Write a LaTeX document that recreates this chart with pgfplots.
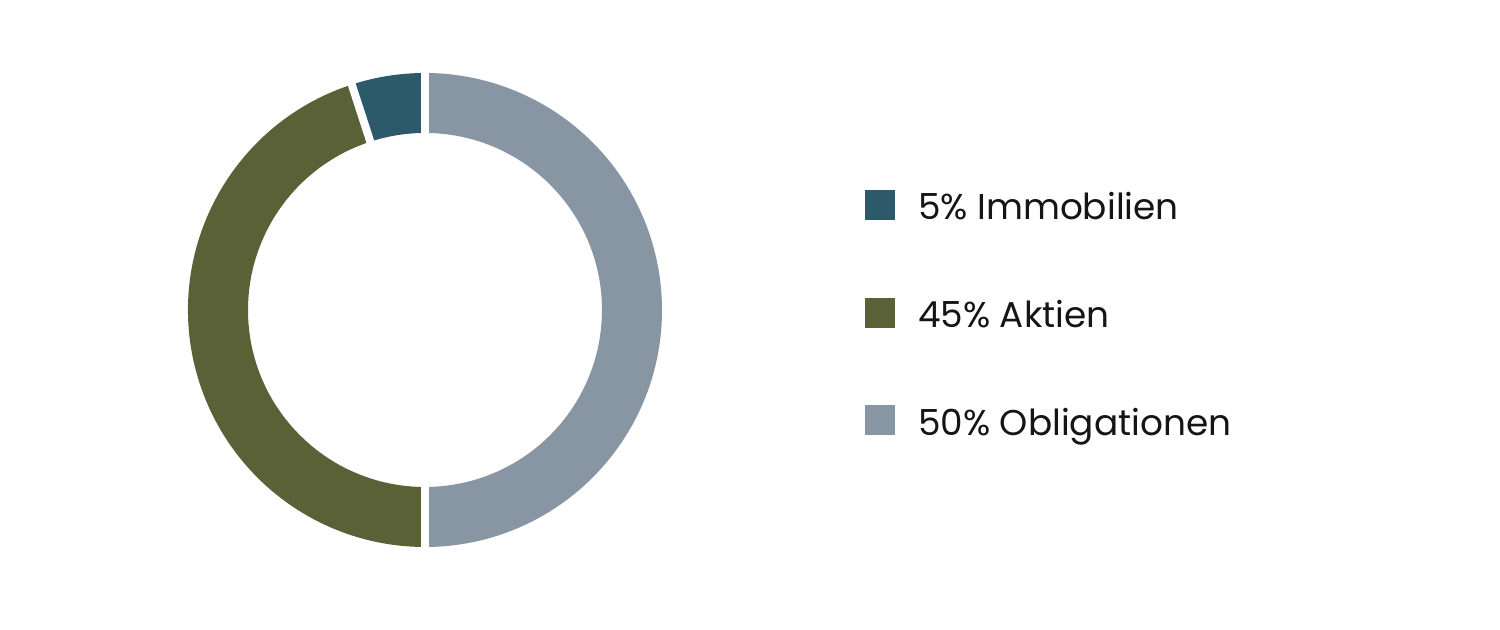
\documentclass[border=0pt]{standalone}
\usepackage{pgfplots}
\pgfplotsset{compat=1.18}
\usepackage{pgfplotstable}
\usepackage{fontspec}
\setmainfont{Poppins}

\definecolor{immo}{HTML}{2C5A6B}
\definecolor{aktien}{HTML}{5A6137}
\definecolor{oblig}{HTML}{8796A2}
\definecolor{textcol}{HTML}{151515}

% shares in percent, drawn counterclockwise from the top
\pgfplotstableread{
value name color
5 Immobilien immo
45 Aktien aktien
50 Obligationen oblig
}\piedata

\def\rout{118.5bp}
\def\rin{88.5bp}

\begin{document}
\begin{tikzpicture}
\begin{axis}[
  width=750bp, height=315bp, scale only axis,
  xmin=0, xmax=1500, ymin=0, ymax=630,
  hide axis, clip=false,
  legend style={draw=none, fill=none, at={(axis cs:865,440)}, anchor=north west,
    inner sep=0pt, outer sep=0pt, row sep=34.8bp, column sep=0pt,
    font=\fontsize{18}{20}\selectfont, text=textcol,
    nodes={inner sep=0pt, text height=14bp, text depth=4bp, anchor=base west}},
  legend cell align=left,
  legend image code/.code={\fill[#1] (0bp,0bp) rectangle (15bp,15bp); \path (26.5bp,0bp);},
]
\pgfplotsextra{%
  \path (axis cs:0,0) rectangle (axis cs:1500,630);
  \pgfplotstablegetrowsof{\piedata}%
  \pgfmathtruncatemacro\lastrow{\pgfplotsretval-1}%
  \gdef\curang{90}%
  \foreach \i in {0,...,\lastrow}{%
    \pgfplotstablegetelem{\i}{value}\of{\piedata}\let\val\pgfplotsretval
    \pgfplotstablegetelem{\i}{color}\of{\piedata}\let\col\pgfplotsretval
    \pgfmathsetmacro\endang{\curang+3.6*\val}%
    \fill[\col] ([shift={(\curang:\rout)}]axis cs:425,320)
      arc[start angle=\curang, end angle=\endang, radius=\rout]
      -- ([shift={(\endang:\rin)}]axis cs:425,320)
      arc[start angle=\endang, end angle=\curang, radius=\rin] -- cycle;
    \xdef\curang{\endang}%
  }%
  \gdef\curang{90}%
  \foreach \i in {0,...,\lastrow}{%
    \pgfplotstablegetelem{\i}{value}\of{\piedata}\let\val\pgfplotsretval
    \draw[white, line width=4bp] ([shift={(\curang:80bp)}]axis cs:425,320)
      -- ([shift={(\curang:125bp)}]axis cs:425,320);
    \pgfmathsetmacro\endang{\curang+3.6*\val}%
    \xdef\curang{\endang}%
  }%
}
\addlegendimage{fill=immo, draw=none}
\addlegendentry{5\% Immobilien}
\addlegendimage{fill=aktien, draw=none}
\addlegendentry{45\% Aktien}
\addlegendimage{fill=oblig, draw=none}
\addlegendentry{50\% Obligationen}
\end{axis}
\end{tikzpicture}
\end{document}
